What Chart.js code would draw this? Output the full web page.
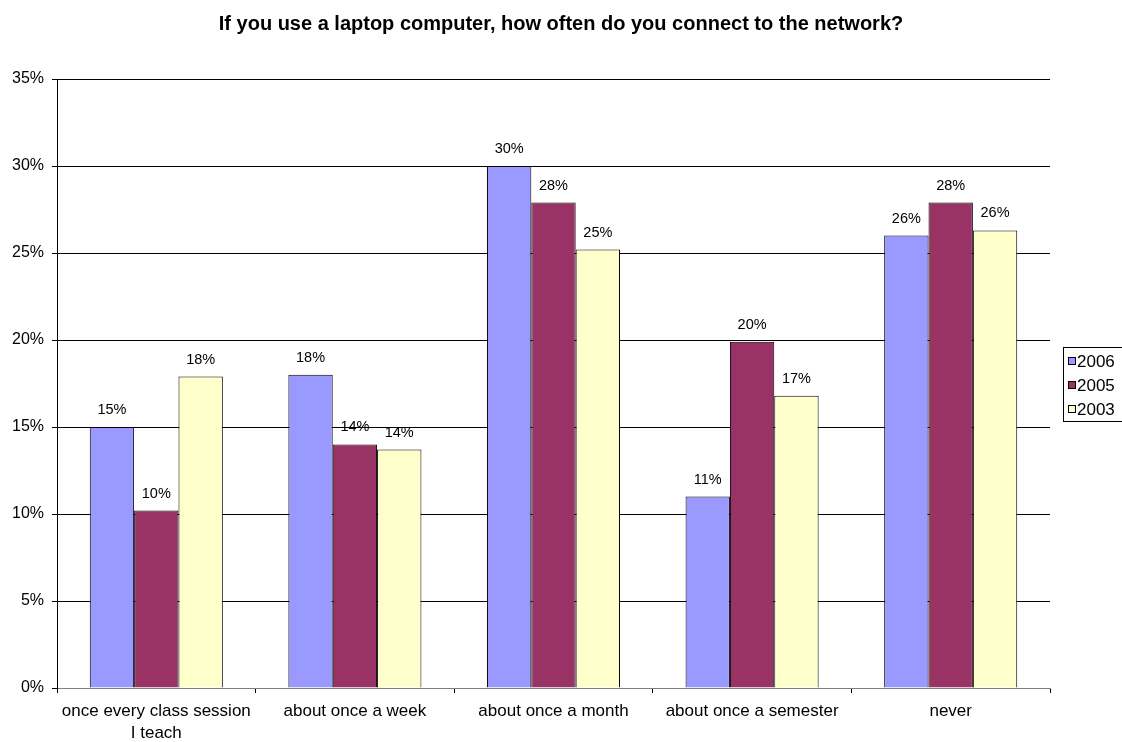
<!DOCTYPE html>
<html>
<head>
<meta charset="utf-8">
<script src="https://cdn.jsdelivr.net/npm/chart.js@4/dist/chart.umd.min.js"></script>
<style>
  html, body { margin: 0; padding: 0; background: #fff; }
  #wrap { width: 1122px; height: 742px; position: relative; }
</style>
</head>
<body>
<div id="wrap"><canvas id="c" width="1122" height="742"></canvas></div>
<script>
const titleText = 'If you use a laptop computer, how often do you connect to the network?';
const categories = [
  ['once every class session', 'I teach'],
  'about once a week',
  'about once a month',
  'about once a semester',
  'never'
];
const seriesNames = ['2006', '2005', '2003'];
const values2006 = [15.0, 18.0, 30.0, 11.0, 26.0];
const values2005 = [10.2, 14.0, 27.9, 19.9, 27.9];
const values2003 = [17.9, 13.7, 25.2, 16.8, 26.3];
const seriesColors = ['#9999FF', '#993366', '#FFFFCC'];
const yTickLabels = ['0%', '5%', '10%', '15%', '20%', '25%', '30%', '35%'];

const FONT = '"Liberation Sans", Arial, sans-serif';

const titlePlugin = {
  id: 'titleText',
  afterDraw(chart) {
    const ctx = chart.ctx;
    ctx.save();
    ctx.font = 'bold 20px ' + FONT;
    ctx.fillStyle = '#000';
    ctx.textAlign = 'center';
    ctx.textBaseline = 'alphabetic';
    ctx.fillText(titleText, 561, 30);
    ctx.restore();
  }
};

const valueLabels = {
  id: 'valueLabels',
  afterDatasetsDraw(chart) {
    const ctx = chart.ctx;
    ctx.save();
    ctx.font = '14.5px ' + FONT;
    ctx.fillStyle = '#000';
    ctx.textAlign = 'center';
    ctx.textBaseline = 'middle';
    chart.data.datasets.forEach((ds, i) => {
      const meta = chart.getDatasetMeta(i);
      meta.data.forEach((bar, j) => {
        ctx.fillText(Math.round(ds.data[j]) + '%', bar.x, bar.y - 17);
      });
    });
    ctx.restore();
  }
};

const boxLegend = {
  id: 'boxLegend',
  afterDraw(chart) {
    const ctx = chart.ctx;
    ctx.save();
    const x0 = 1063, y0 = 347, w = 70, h = 74;
    ctx.strokeStyle = '#000';
    ctx.lineWidth = 1;
    ctx.fillStyle = '#fff';
    ctx.fillRect(x0, y0, w, h);
    ctx.strokeRect(x0 + 0.5, y0 + 0.5, w, h);
    ctx.font = '17px ' + FONT;
    ctx.textBaseline = 'middle';
    ctx.textAlign = 'left';
    chart.data.datasets.forEach((ds, i) => {
      const cy = 361 + i * 24;
      ctx.fillStyle = ds.backgroundColor;
      ctx.fillRect(1068, cy - 4, 8, 8);
      ctx.strokeStyle = '#000';
      ctx.strokeRect(1068.5, cy - 3.5, 7, 7);
      ctx.fillStyle = '#000';
      ctx.fillText(ds.label, 1077, cy + 1);
    });
    ctx.restore();
  }
};

new Chart(document.getElementById('c'), {
  type: 'bar',
  data: {
    labels: categories,
    datasets: [
      { label: seriesNames[0], data: values2006, backgroundColor: seriesColors[0] },
      { label: seriesNames[1], data: values2005, backgroundColor: seriesColors[1] },
      { label: seriesNames[2], data: values2003, backgroundColor: seriesColors[2] }
    ].map(d => Object.assign(d, { borderColor: '#000', borderWidth: 1, borderSkipped: 'bottom', barPercentage: 1, categoryPercentage: 0.67 }))
  },
  plugins: [valueLabels, boxLegend, titlePlugin],
  options: {
    responsive: false,
    animation: false,
    devicePixelRatio: 1,
    layout: { padding: { left: 0, right: 72, top: 79, bottom: 0 } },
    plugins: {
      legend: { display: false },
      tooltip: { enabled: false },
      title: { display: false }
    },
    scales: {
      x: {
        grid: { drawOnChartArea: false, color: '#000', tickLength: 5, offset: true },
        border: { color: '#808080', width: 1 },
        ticks: { color: '#000', font: { family: FONT, size: 17, lineHeight: 1.3 }, padding: 7, maxRotation: 0, autoSkip: false },
        afterFit(s) { s.height = 54; }
      },
      y: {
        min: 0, max: 35,
        grid: { color: '#000', tickLength: 5, lineWidth: 1 },
        border: { color: '#000', width: 1 },
        ticks: {
          stepSize: 5,
          color: '#000',
          font: { family: FONT, size: 16 },
          padding: 8,
          callback: (v) => yTickLabels[Math.round(v / 5)]
        },
        afterFit(s) { s.width = 57; }
      }
    }
  }
});
</script>
</body>
</html>
